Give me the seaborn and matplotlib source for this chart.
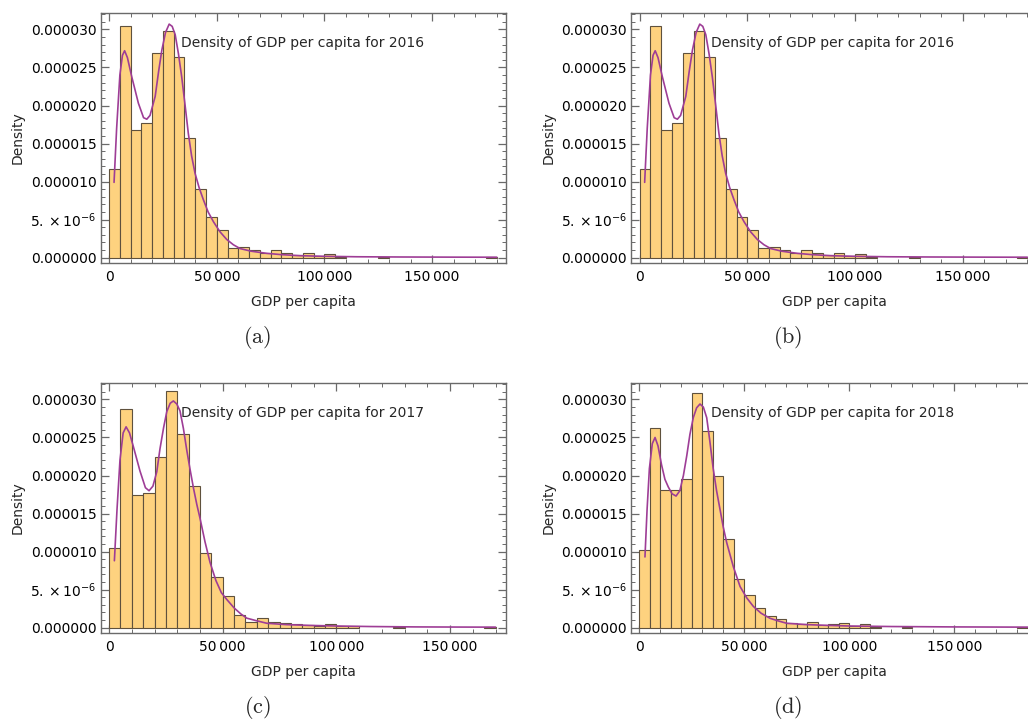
import numpy as np
import pandas as pd
import matplotlib
matplotlib.use("Agg")
import matplotlib.pyplot as plt
import seaborn as sns
from matplotlib.ticker import MultipleLocator

# ---------------- data (density values in units of 1e-6) ----------------
bin_width = 5000

hist_2016 = [11.6, 30.4, 16.8, 17.7, 26.9, 29.8, 26.4, 15.7, 9.0, 5.3, 3.7, 1.25,
             1.4, 0.96, 0.6, 0.96, 0.66, 0.35, 0.6, 0.26, 0.44, 0.08, 0, 0, 0, 0.15,
             0, 0, 0, 0, 0, 0, 0, 0, 0, 0.15]
hist_2017 = [10.5, 28.7, 17.4, 17.7, 22.4, 31.1, 25.4, 18.6, 9.8, 6.7, 4.2, 1.65,
             0.71, 1.25, 0.8, 0.58, 0.45, 0.4, 0.27, 0.45, 0.27, 0.27, 0, 0, 0, 0.15,
             0, 0, 0, 0, 0, 0, 0, 0.15]
hist_2018 = [10.2, 26.3, 18.05, 18.05, 19.5, 30.9, 25.9, 20.0, 11.6, 6.4, 4.3, 2.6,
             1.6, 1.1, 0.66, 0.49, 0.75, 0.31, 0.44, 0.58, 0.22, 0.44, 0.13, 0, 0, 0.15,
             0, 0, 0, 0, 0, 0, 0, 0, 0, 0, 0.15]

kde_x_2016 = [2300, 3500, 5000, 6200, 7200, 8500, 10500, 13600, 16000, 17500, 19000,
              21400, 23000, 24500, 26200, 27900, 29300, 30700, 32200, 33700, 35300,
              36800, 38300, 39900, 41800, 43800, 46000, 48500, 51500, 54600, 57700,
              60800, 66000, 73200, 80000, 88700, 100000, 115000, 135000, 160000, 180000]
kde_y_2016 = [9.9, 17.0, 24.0, 26.6, 27.2, 26.3, 23.8, 20.3, 18.4, 18.2, 18.7,
              21.2, 24.5, 27.3, 29.6, 30.7, 30.4, 29.3, 26.8, 23.8, 20.0,
              16.3, 13.4, 11.1, 9.2, 7.6, 6.0, 4.7, 3.4, 2.4, 1.7,
              1.2, 0.85, 0.57, 0.4, 0.26, 0.18, 0.12, 0.09, 0.07, 0.06]

kde_x_2017 = [2350, 3500, 4800, 6200, 7500, 9000, 10700, 13600, 16000, 17600, 19300,
              21000, 22400, 24000, 25400, 26900, 28300, 29800, 31200, 32700, 34200,
              35700, 37100, 38600, 40000, 42200, 44400, 47000, 49400, 51800, 55000,
              58000, 60600, 65000, 69400, 78000, 88000, 100000, 115000, 135000, 155000, 170000]
kde_y_2017 = [8.8, 15.5, 22.0, 25.6, 26.4, 25.6, 23.8, 20.6, 18.4, 18.0, 18.6,
              20.5, 23.5, 26.3, 28.4, 29.5, 29.8, 29.4, 28.5, 26.2, 23.3,
              20.7, 18.4, 16.2, 14.4, 11.3, 8.6, 6.2, 4.6, 3.7, 2.6,
              1.8, 1.25, 0.9, 0.58, 0.4, 0.3, 0.22, 0.15, 0.1, 0.08, 0.07]

kde_x_2018 = [2700, 3700, 4800, 6200, 7500, 8900, 10600, 12200, 13800, 15600, 17500,
              19300, 21000, 22600, 24100, 25700, 27300, 28900, 30500, 32100, 33600,
              35200, 36800, 38400, 40000, 41600, 44800, 48000, 51200, 54300, 58000,
              62200, 66000, 70200, 80000, 90000, 100000, 120000, 150000, 185000]
kde_y_2018 = [9.3, 15.5, 20.9, 24.2, 25.0, 23.9, 21.4, 19.5, 18.5, 17.6, 17.3,
              18.0, 20.0, 22.6, 25.4, 27.6, 28.9, 29.4, 29.0, 27.6, 24.5,
              20.9, 18.0, 15.6, 13.2, 11.2, 8.0, 5.4, 3.9, 2.8, 1.9,
              1.24, 0.9, 0.58, 0.4, 0.3, 0.22, 0.15, 0.1, 0.07]

years = ["2016", "2016", "2017", "2018"]
panel_tags = ["a", "b", "c", "d"]
ytick_vals = [0, 5, 10, 15, 20, 25, 30]
ytick_labels = ["0.000000", r"$5.\times10^{-6}$", "0.000010", "0.000015",
                "0.000020", "0.000025", "0.000030"]
xtick_vals = [0, 50000, 100000, 150000]
xtick_labels = ["0", "50\u2009000", "100\u2009000", "150\u2009000"]

# ---------------- style ----------------
sns.set_style("ticks")
plt.rcParams["font.family"] = ["DejaVu Sans"]
plt.rcParams["mathtext.fontset"] = "dejavusans"

W, H = 1028, 722
fig = plt.figure(figsize=(W / 100, H / 100), dpi=100)

BAR_FACE = "#FED27F"
BAR_EDGE = "#5f513d"
CURVE = "#9E3D96"
FRAME = "#6a6a6a"

panels = [
    dict(hist=hist_2016, kx=kde_x_2016, ky=kde_y_2016, left=100.7, top=12.7, xlim=(-3900, 184300)),
    dict(hist=hist_2016, kx=kde_x_2016, ky=kde_y_2016, left=631.3, top=12.7, xlim=(-3900, 184300)),
    dict(hist=hist_2017, kx=kde_x_2017, ky=kde_y_2017, left=100.7, top=382.7, xlim=(-3670, 174600)),
    dict(hist=hist_2018, kx=kde_x_2018, ky=kde_y_2018, left=631.3, top=382.7, xlim=(-3810, 189200)),
]
AX_W, AX_H = 405.3, 250.0

for i, p in enumerate(panels):
    ax = fig.add_axes([p["left"] / W, 1 - (p["top"] + AX_H) / H, AX_W / W, AX_H / H])
    heights = np.array(p["hist"]) * 1e-6
    n = len(heights)
    edges = np.arange(n + 1) * bin_width
    centers = edges[:-1] + bin_width / 2
    df = pd.DataFrame({"x": centers, "w": heights})
    sns.histplot(data=df, x="x", weights="w", binwidth=bin_width,
                 binrange=(0, n * bin_width), stat="count", ax=ax,
                 color=BAR_FACE, alpha=1.0, edgecolor=BAR_EDGE, linewidth=0.8)
    for patch in ax.patches:
        if patch.get_height() <= 0:
            patch.set_visible(False)
    kdf = pd.DataFrame({"x": p["kx"], "y": np.array(p["ky"]) * 1e-6})
    sns.lineplot(data=kdf, x="x", y="y", ax=ax, color=CURVE, linewidth=1.2, sort=False)

    ax.set_xlim(*p["xlim"])
    ax.set_ylim(-0.66e-6, 32.2e-6)
    ax.set_yticks([v * 1e-6 for v in ytick_vals])
    ax.set_yticklabels(ytick_labels)
    ax.set_xticks(xtick_vals)
    ax.set_xticklabels(xtick_labels)
    ax.yaxis.set_minor_locator(MultipleLocator(1e-6))
    ax.xaxis.set_minor_locator(MultipleLocator(10000))
    ax.tick_params(which="both", direction="in", top=True, right=True, color=FRAME,
                   labelsize=10, labelcolor="black")
    ax.tick_params(which="major", length=6, width=0.9)
    ax.tick_params(which="minor", length=3, width=0.7)
    ax.tick_params(axis="y", pad=3)
    ax.tick_params(axis="x", pad=5)
    for s in ax.spines.values():
        s.set_visible(True)
        s.set_color(FRAME)
        s.set_linewidth(1.0)

    ax.set_xlabel("GDP per capita", fontsize=10, va="top")
    ax.xaxis.set_label_coords(0.5, -0.128)
    ax.set_ylabel("Density", fontsize=10)
    ax.yaxis.set_label_coords(-0.187, 0.5)

    ax.text(0.197, 0.88, f"Density of GDP per capita for {years[i]}",
            transform=ax.transAxes, fontsize=10, ha="left", va="center")

    cx = (p["left"] + AX_W / 2 - 46) / W
    cy = 1 - (p["top"] + 324.5) / H
    fig.text(cx, cy, r"$(\mathrm{" + panel_tags[i] + r"})$", math_fontfamily="cm",
             fontsize=16, ha="center", va="center")

fig.savefig("out.png", dpi=100)
